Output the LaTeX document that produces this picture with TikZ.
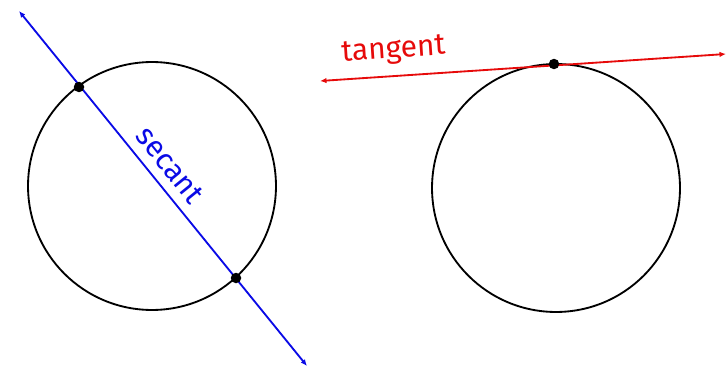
\documentclass[tikz,border=0pt]{standalone}
\usepackage{fontspec}
\setmainfont{Fira Sans}
\usetikzlibrary{arrows.meta}
\definecolor{SecantBlue}{RGB}{10,10,230}
\definecolor{TangentRed}{RGB}{230,10,10}
\tikzset{
  disc/.style={draw=black, circle, line width=1.05pt, minimum size=4.96cm, inner sep=0pt},
  contact/.style={fill=black, circle, minimum size=0.21cm, inner sep=0pt},
  secantline/.style={{Latex[length=1.3mm,width=1.1mm]}-{Latex[length=1.3mm,width=1.1mm]}, line width=1.05pt, SecantBlue},
  tangentline/.style={{Latex[length=1.3mm,width=1.1mm]}-{Latex[length=1.3mm,width=1.1mm]}, line width=1.05pt, TangentRed},
  linelabel/.style={font=\fontsize{17}{20}\selectfont, sloped}
}
\begin{document}
\begin{tikzpicture}[x=0.02cm, y=-0.02cm]
      \useasboundingbox (0,0) rectangle (726,368);
      \node[disc] (left) at (152,186) {};
      \node[disc] (right) at (556,188) {};
      \coordinate (secA) at (19,11);
      \coordinate (secB) at (307,366);
      \coordinate (tanA) at (320,81);
      \coordinate (tanB) at (726,54);
      \draw[secantline] (secA) -- node[linelabel, above=2pt, pos=0.47, text=SecantBlue] {secant} (secB);
      \draw[tangentline] (tanA) -- node[linelabel, above=3pt, pos=0.185, text=TangentRed] {tangent} (tanB);
      \node[contact] (cut1) at (79,87) {};
      \node[contact] (cut2) at (236,278) {};
      \node[contact] (touch) at (554,64) {};
    \end{tikzpicture}
\end{document}
